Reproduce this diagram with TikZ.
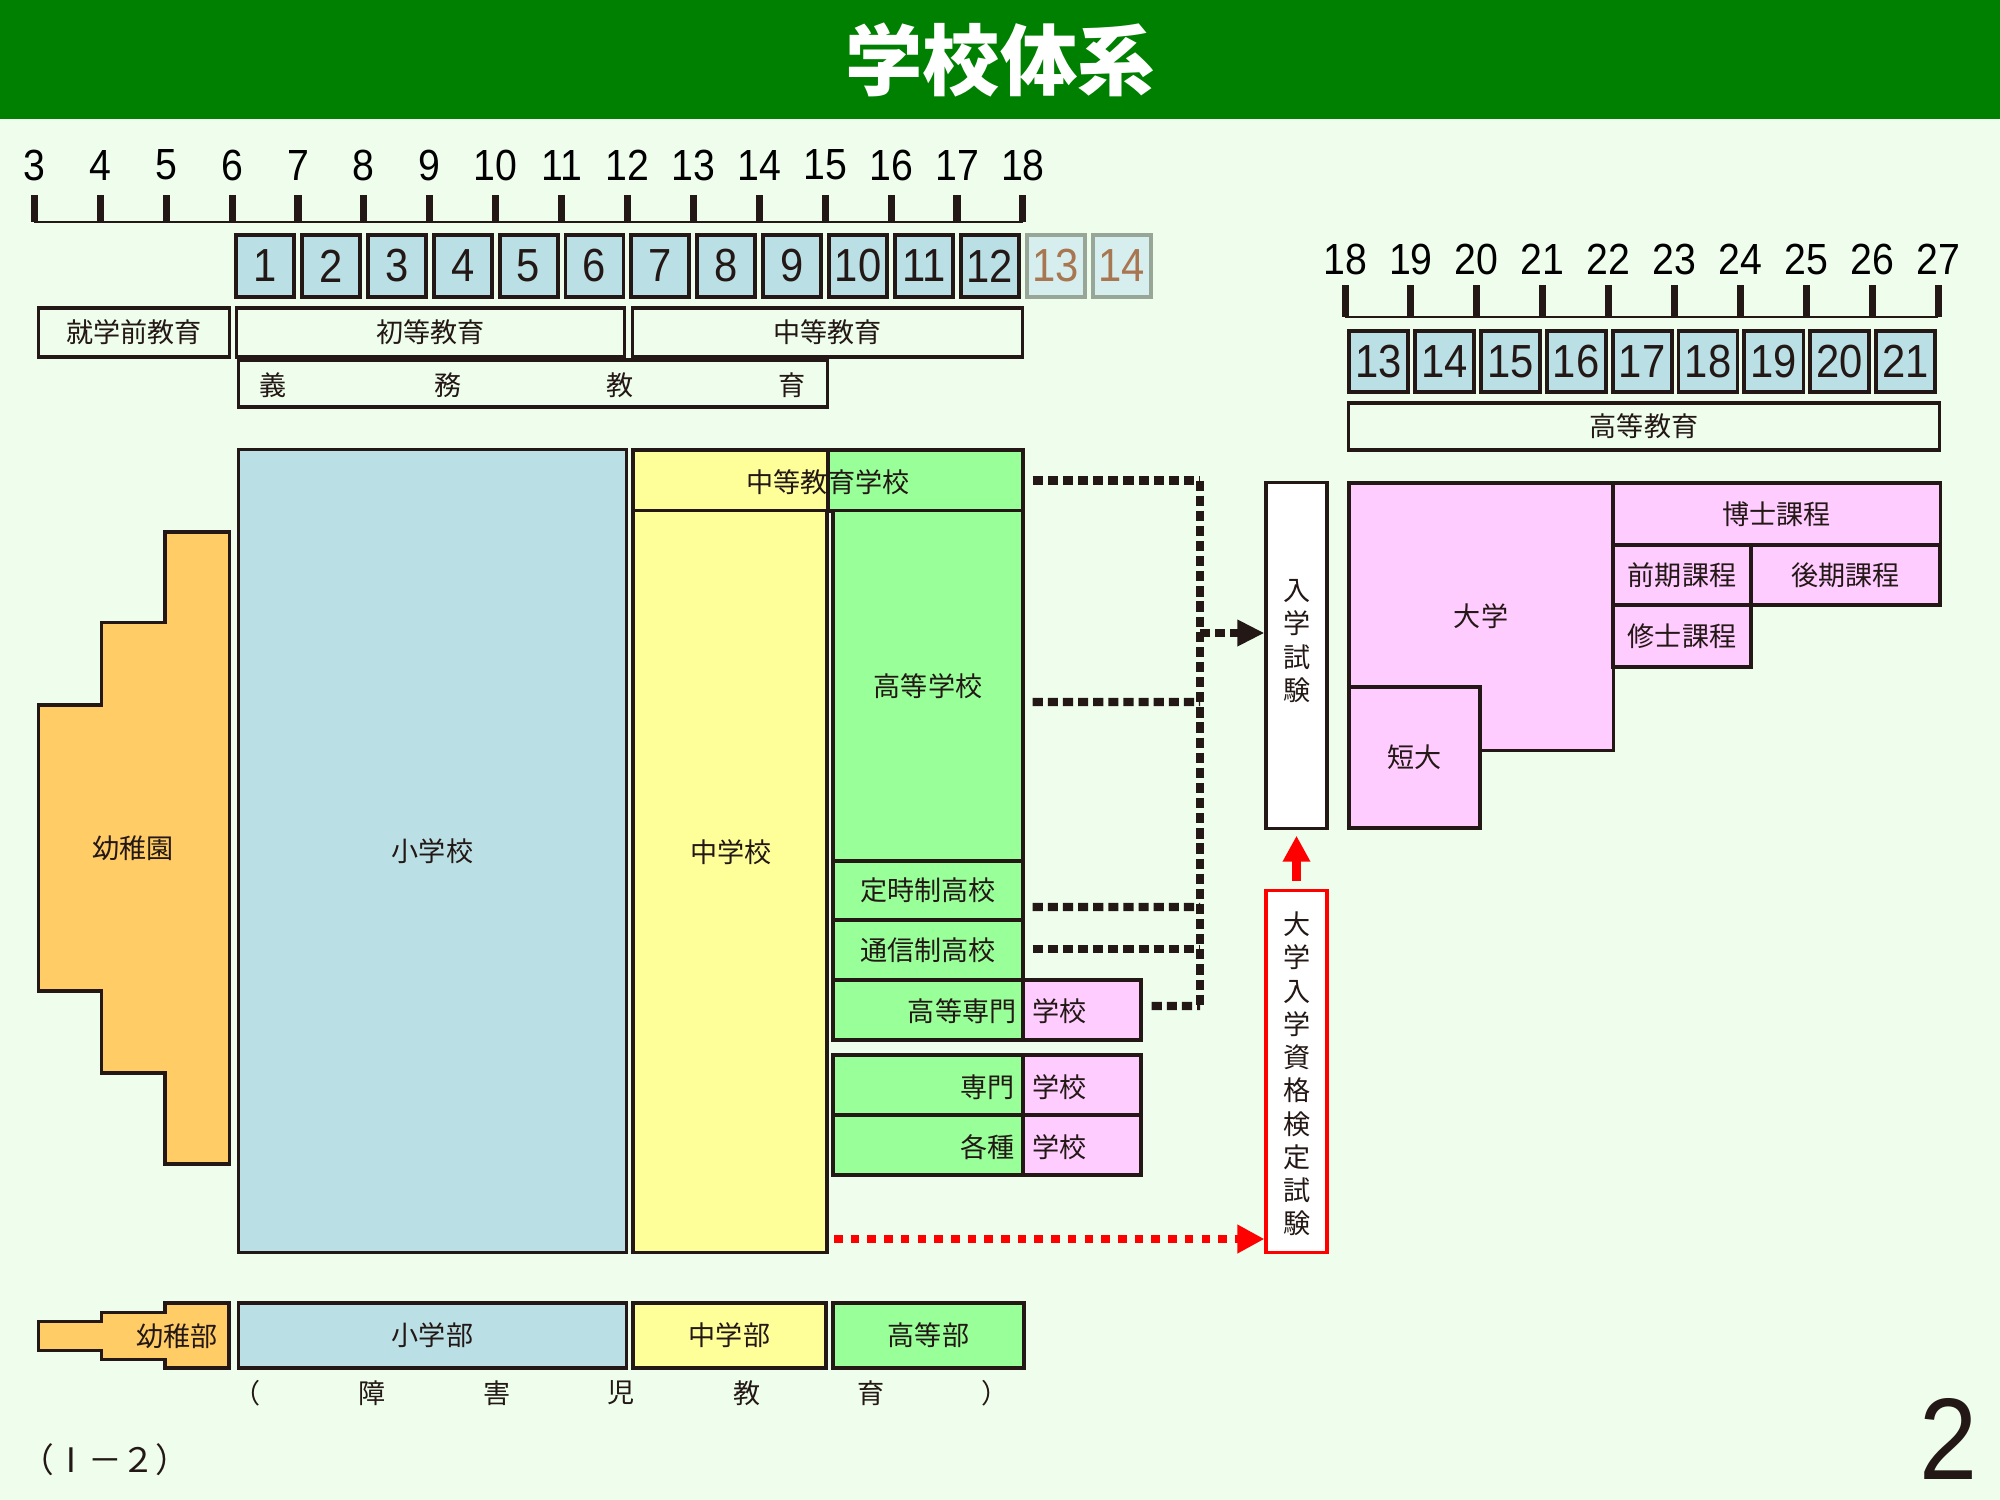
\documentclass[tikz,border=0pt]{standalone}
\usepackage{fontspec}
\newfontfamily\jp{Noto Sans CJK JP}
\newfontfamily\numf[FakeStretch=0.9]{Liberation Sans}
\usetikzlibrary{arrows.meta}

\definecolor{bg}{RGB}{238,253,236}
\definecolor{titlec}{RGB}{0,128,0}
\definecolor{ink}{RGB}{35,24,21}
\definecolor{skyc}{RGB}{186,224,230}
\definecolor{yelc}{RGB}{255,255,153}
\definecolor{grnc}{RGB}{153,255,153}
\definecolor{pnkc}{RGB}{255,204,255}
\definecolor{orgc}{RGB}{255,204,102}
\definecolor{palec}{RGB}{214,238,238}
\definecolor{grayc}{RGB}{152,166,152}
\definecolor{brownc}{RGB}{168,118,80}
\definecolor{redc}{RGB}{255,0,0}

\tikzset{
  box/.style={draw=ink, line width=0.9pt, inner sep=0pt, text=ink, font=\jp\fontsize{7.7}{9}\selectfont},
  grade/.style={draw=ink, line width=1.1pt, fill=skyc, inner sep=0pt, text=ink,
    minimum width=0.58cm, minimum height=0.62cm, font=\numf\fontsize{13.2}{14}\selectfont},
  faded/.style={grade, draw=grayc, fill=palec, text=brownc},
  agelbl/.style={inner sep=0pt, text=black, font=\numf\fontsize{12.4}{13}\selectfont},
  lbl/.style={inner sep=0pt, text=ink, font=\jp\fontsize{7.7}{9}\selectfont},
  vlbl/.style={inner sep=0pt, text=ink, align=center, font=\jp\fontsize{7.7}{9.45}\selectfont},
  blkdots/.style={draw=ink, line width=2.3pt, dash pattern=on 2.9pt off 1.4pt},
  reddots/.style={draw=redc, line width=2.5pt, dash pattern=on 2.45pt off 2.3pt}
}

\begin{document}
\begin{tikzpicture}[x=0.01cm, y=-0.01cm]
\useasboundingbox (0,0) rectangle (2000,1500);
\fill[bg] (0,0) rectangle (2000,1500);

% title bar
\fill[titlec] (0,0) rectangle (2000,119);
\node[font=\jp\bfseries\fontsize{22}{24}\selectfont, text=white] (title) at (1000,60) {学校体系};

% age scale, school years
\foreach \a in {3,...,18} {
  \draw[ink, line width=2pt] ({34.4+(\a-3)*65.9},195) -- ({34.4+(\a-3)*65.9},222);
  \node[agelbl] (age\a) at ({34.4+(\a-3)*65.9},165) {\a};
}
\draw[ink, line width=0.7pt] (34.4,222) -- (1023,222);
\foreach \a in {18,...,27} {
  \draw[ink, line width=2pt] ({1345+(\a-18)*65.9},285) -- ({1345+(\a-18)*65.9},317);
  \node[agelbl] (uage\a) at ({1345+(\a-18)*65.9},259) {\a};
}
\draw[ink, line width=0.7pt] (1345,317) -- (1938,317);

\foreach \i in {1,...,12}
  \node[grade] (g\i) at ({265+(\i-1)*65.9},266) {\i};
\foreach \i in {13,14}
  \node[faded] (g\i) at ({265+(\i-1)*65.9},266) {\i};
\foreach \j in {13,...,21}
  \node[grade, minimum width=0.59cm, minimum height=0.61cm] (u\j) at ({1378.5+(\j-13)*65.9},361.5) {\j};

% stages
\node[box, minimum width=1.91cm, minimum height=0.49cm] (pre) at (134,332.5) {就学前教育};
\node[box, minimum width=3.87cm, minimum height=0.49cm] (prim) at (430.5,332.5) {初等教育};
\node[box, minimum width=3.89cm, minimum height=0.49cm] (sec) at (827.5,332.5) {中等教育};
\node[box, minimum width=5.88cm, minimum height=0.47cm] (comp) at (533,383.5) {};
\foreach \ch/\xx in {義/273, 務/448, 教/620, 育/792}
  \node[lbl] (gm\xx) at (\xx,385) {\ch};
\node[box, minimum width=5.90cm, minimum height=0.47cm] (high) at (1644,426.5) {高等教育};

% schools
\filldraw[fill=orgc, draw=ink, line width=0.9pt] (229.5,532) -- (165,532) -- (165,622.5) -- (101.7,622.5)
  -- (101.7,705) -- (38.6,705) -- (38.6,991) -- (101.7,991) -- (101.7,1073) -- (165,1073)
  -- (165,1164) -- (229.5,1164) -- cycle;
\node[lbl] (kg) at (133,848) {幼稚園};
\node[box, fill=skyc, minimum width=3.87cm, minimum height=8.02cm] (es) at (432.5,851) {小学校};
\node[box, fill=yelc, minimum width=1.95cm, minimum height=0.61cm] (cs1) at (730.5,480.5) {};
\node[box, fill=grnc, minimum width=1.95cm, minimum height=0.61cm] (cs2) at (925.5,480.5) {};
\node[lbl] (cslbl) at (828,482) {中等教育学校};
\node[box, fill=yelc, minimum width=1.94cm, minimum height=7.41cm] (jhs) at (730,881.5) {};
\node[lbl] (jhslbl) at (731,852) {中学校};
\node[box, fill=grnc, minimum width=1.90cm, minimum height=3.50cm] (hs) at (928,686) {高等学校};
\node[box, fill=grnc, minimum width=1.90cm, minimum height=0.59cm] (pt) at (928,890.5) {定時制高校};
\node[box, fill=grnc, minimum width=1.90cm, minimum height=0.60cm] (cr) at (928,950) {通信制高校};
\node[box, fill=grnc, minimum width=1.90cm, minimum height=0.60cm] (kt1) at (928,1010) {};
\node[box, fill=pnkc, minimum width=1.18cm, minimum height=0.60cm] (kt2) at (1082,1010) {};
\node[lbl, anchor=east] (kt1lbl) at (1017,1011) {高等専門};
\node[lbl, anchor=west] (kt2lbl) at (1032,1011) {学校};
\node[box, fill=grnc, minimum width=1.90cm, minimum height=0.60cm] (sp1) at (928,1085) {};
\node[box, fill=pnkc, minimum width=1.18cm, minimum height=0.60cm] (sp2) at (1082,1085) {};
\node[lbl, anchor=east] (sp1lbl) at (1015,1087) {専門};
\node[lbl, anchor=west] (sp2lbl) at (1032,1087) {学校};
\node[box, fill=grnc, minimum width=1.90cm, minimum height=0.60cm] (mc1) at (928,1145) {};
\node[box, fill=pnkc, minimum width=1.18cm, minimum height=0.60cm] (mc2) at (1082,1145) {};
\node[lbl, anchor=east] (mc1lbl) at (1015,1147) {各種};
\node[lbl, anchor=west] (mc2lbl) at (1032,1147) {学校};

% exams
\node[box, fill=white, minimum width=0.61cm, minimum height=3.45cm] (exam) at (1296.5,655.5) {};
\node[vlbl] (examlbl) at (1297,641) {入\\学\\試\\験};
\node[box, draw=redc, fill=white, minimum width=0.61cm, minimum height=3.61cm] (qual) at (1296.5,1071.5) {};
\node[vlbl] (quallbl) at (1297,1074) {大\\学\\入\\学\\資\\格\\検\\定\\試\\験};

% university
\node[box, fill=pnkc, minimum width=2.64cm, minimum height=2.67cm] (univ) at (1481,616.5) {大学};
\node[box, fill=pnkc, minimum width=1.31cm, minimum height=1.41cm] (jc) at (1414.5,757.5) {短大};
\node[box, fill=pnkc, minimum width=3.27cm, minimum height=0.62cm] (doc) at (1776.5,514) {博士課程};
\node[box, fill=pnkc, minimum width=1.38cm, minimum height=0.60cm] (early) at (1682,575) {前期課程};
\node[box, fill=pnkc, minimum width=1.89cm, minimum height=0.60cm] (late) at (1845.5,575) {後期課程};
\node[box, fill=pnkc, minimum width=1.38cm, minimum height=0.62cm] (mast) at (1682,636) {修士課程};

% routes to the exam
\coordinate (j1) at (1200,480.5);
\coordinate (j2) at (1200,702);
\coordinate (j3) at (1200,907);
\coordinate (j4) at (1200,949);
\coordinate (j5) at (1200,1006);
\coordinate (jm) at (1200,633);
\draw[blkdots] ([xshift=0.08cm]cs2.east) -- (j1);
\draw[blkdots] ([xshift=0.08cm,yshift=-0.16cm]hs.east) -- (j2);
\draw[blkdots] ([xshift=0.08cm,yshift=-0.165cm]pt.east) -- (j3);
\draw[blkdots] ([xshift=0.08cm,yshift=0.01cm]cr.east) -- (j4);
\draw[blkdots] ([xshift=0.09cm,yshift=0.04cm]kt2.east) -- (j5);
\draw[blkdots] (j1) -- (j5);
\draw[blkdots, -{Triangle[length=7.7pt,width=7.1pt]}] (jm) -- (jm -| exam.west);
\coordinate (rs) at (834,1239);
\draw[reddots, -{Triangle[length=7.7pt,width=7.7pt]}] (rs) -- (rs -| qual.west);
\draw[draw=redc, line width=2.3pt, -{Triangle[length=7.4pt,width=7.4pt]}]
  ([yshift=0.08cm]qual.north) -- ([yshift=-0.06cm]exam.south);

% special needs schools
\filldraw[fill=orgc, draw=ink, line width=0.9pt] (229,1303) -- (165,1303) -- (165,1312.7) -- (101.7,1312.7)
  -- (101.7,1321.7) -- (38.6,1321.7) -- (38.6,1350.7) -- (101.7,1350.7) -- (101.7,1359.3)
  -- (165,1359.3) -- (165,1368) -- (229,1368) -- cycle;
\node[lbl, anchor=east] (kgs) at (218,1336) {幼稚部};
\node[box, fill=skyc, minimum width=3.87cm, minimum height=0.65cm] (ess) at (432.5,1335.5) {小学部};
\node[box, fill=yelc, minimum width=1.93cm, minimum height=0.65cm] (jhss) at (729.5,1335.5) {中学部};
\node[box, fill=grnc, minimum width=1.91cm, minimum height=0.65cm] (hss) at (928.5,1335.5) {高等部};
\foreach \ch/\xx in {（/247, 障/372, 害/497, 児/621, 教/747, 育/871, ）/995}
  \node[lbl] (sn\xx) at (\xx,1393) {\ch};

\node[lbl, anchor=west, font=\jp\fontsize{9.6}{11}\selectfont] (secno) at (20,1460) {（Ⅰ－２）};
\node[inner sep=0pt, text=ink, font=\numf\fontsize{33}{34}\selectfont] (pagenum) at (1949,1439) {2};
\end{tikzpicture}
\end{document}
